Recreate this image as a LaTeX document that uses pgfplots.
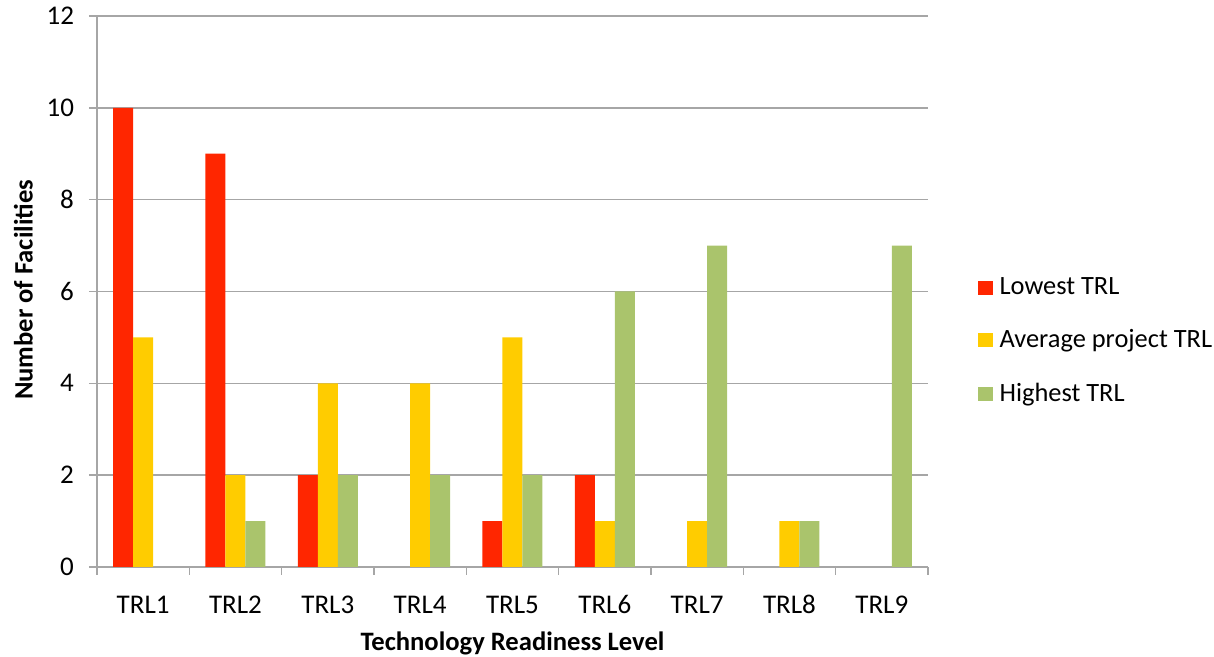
\documentclass[border=0pt]{standalone}
\usepackage{fontspec}
\setmainfont{Carlito}
\usepackage{pgfplots}
\pgfplotsset{compat=1.18}

\definecolor{lowred}{RGB}{255,38,0}
\definecolor{avgyel}{RGB}{255,204,0}
\definecolor{highgrn}{RGB}{170,196,108}
\definecolor{gridgr}{RGB}{166,166,166}

\begin{document}
\begin{tikzpicture}
\begin{axis}[
    scale only axis,
    width=415.5pt, height=275.5pt,
    ybar=0pt, bar width=10pt,
    xmin=0.5, xmax=9.5,
    ymin=0, ymax=12,
    axis x line=bottom, axis y line=left,
    axis line style={gridgr, line width=0.8pt, -},
    xtick={1,...,9},
    xticklabels={TRL1,TRL2,TRL3,TRL4,TRL5,TRL6,TRL7,TRL8,TRL9},
    major x tick style={draw=none},
    extra x ticks={0.5,1.5,...,9.5},
    extra x tick labels={},
    extra x tick style={tick align=outside, major tick length=4pt,
        major x tick style={draw=gridgr, line width=0.8pt}, grid=none},
    ytick={0,2,...,12},
    tick align=outside, major tick length=4pt,
    y tick style={gridgr, line width=0.8pt},
    ymajorgrids, grid style={gridgr, line width=0.8pt},
    /pgf/number format/assume math mode=true,
    ticklabel style={font=\fontsize{13.5}{16}\selectfont},
    yticklabel style={xshift=-4pt},
    xticklabel style={yshift=-6pt, text height=9.5pt, text depth=0pt},
    xlabel={Technology Readiness Level},
    ylabel={Number of Facilities},
    label style={font=\bfseries\fontsize{13.3}{15}\selectfont},
    xlabel style={at={(axis description cs:0.5,-0.138)}, anchor=center},
    ylabel style={at={(axis description cs:-0.0885,0.503)}, anchor=center},
    legend style={draw=none, fill=none, at={(axis description cs:1.052,0.41)},
        anchor=west, font=\fontsize{13.2}{16}\selectfont,
        row sep=12pt, legend cell align=left,
        nodes={inner xsep=3.5pt}},
    legend image code/.code={\fill[#1] (0pt,-3.5pt) rectangle (7.5pt,3.5pt);},
]
\addplot[draw=none, fill=lowred] coordinates
  {(1,10) (2,9) (3,2) (5,1) (6,2)};
\addplot[draw=none, fill=avgyel] coordinates
  {(1,5) (2,2) (3,4) (4,4) (5,5) (6,1) (7,1) (8,1)};
\addplot[draw=none, fill=highgrn] coordinates
  {(2,1) (3,2) (4,2) (5,2) (6,6) (7,7) (8,1) (9,7)};
\legend{Lowest TRL, Average project TRL, Highest TRL}
\end{axis}
\pgfresetboundingbox
\path[use as bounding box] (-48.5pt,-45pt) rectangle (558.5pt,283.5pt);
\end{tikzpicture}
\end{document}
